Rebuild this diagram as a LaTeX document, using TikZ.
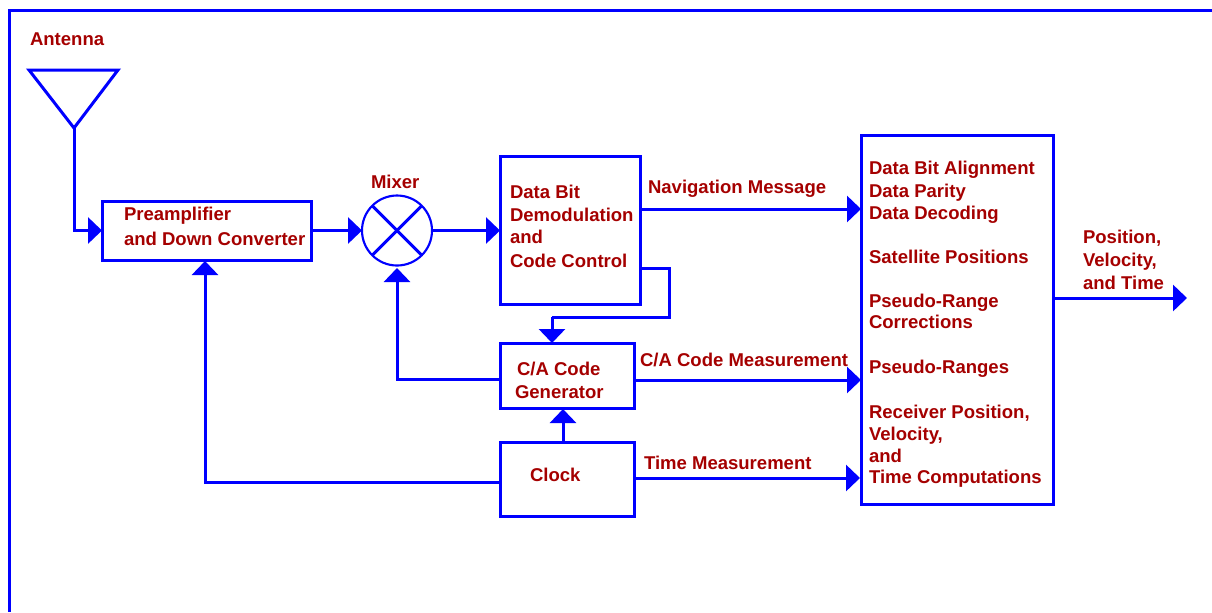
\documentclass[tikz,border=0pt]{standalone}
\usepackage{fontspec}
\setmainfont{Liberation Sans}
\usetikzlibrary{arrows.meta}
\definecolor{linecol}{RGB}{0,0,255}
\definecolor{textcol}{RGB}{165,0,0}
\tikzset{
  x=0.75pt,y=-0.75pt,
  wire/.style={draw=linecol,line width=2.25pt},
  flow/.style={wire,-{Triangle[length=10.5pt,width=19.5pt]}},
  block/.style={draw=linecol,line width=2.25pt,fill=white,inner sep=0pt,outer sep=0pt},
  lbl/.style={text=textcol,font=\bfseries\fontsize{13.9pt}{16pt}\selectfont,inner sep=0pt,outer sep=0pt,anchor=base west},
}
\newcommand{\boxat}[5]{\node[block,minimum width=#4*0.75pt,minimum height=#5*0.75pt] (#1) at (#2,#3) {};}
\begin{document}
\begin{tikzpicture}
\useasboundingbox (0,0) rectangle (1212,612);
% frame
\coordinate (fa) at (9,612);
\coordinate (fb) at (9,10);
\coordinate (fc) at (1212,10);
\draw[wire,line join=miter] (fa) -- (fb) -- (fc);
% blocks
\boxat{pre}{206.5}{230.5}{209}{59}
\boxat{dat}{570}{230.5}{140}{148}
\boxat{gen}{567}{375.5}{134}{65}
\boxat{clk}{567}{479}{134}{74}
\boxat{nav}{957}{319.5}{192}{369}
\node[circle,draw=linecol,line width=1.6pt,minimum size=70*0.75pt,inner sep=0pt,outer sep=0pt] (mix) at (397,230.5) {};
\draw[wire] (mix.north west) -- (mix.south east);
\draw[wire] (mix.north east) -- (mix.south west);
% antenna
\coordinate (ta) at (29,70);
\coordinate (tb) at (118,70);
\coordinate (ant) at (74,128);
\draw[wire,line join=miter] (ta) -- (tb) -- (ant) -- cycle;
% connection points
\coordinate (navin) at (861,209);
\coordinate (genin) at (861,380);
\coordinate (clkin) at (860,478);
\coordinate (outtip) at (1187,298);
\coordinate (fbk) at (640,268);
\coordinate (fbr) at (669,268);
\coordinate (fbb) at (669,317);
\coordinate (fbl) at (552,317);
\coordinate (gentop) at (552,343);
\coordinate (genl) at (500,379);
\coordinate (mixb) at (397,268);
\coordinate (clkl) at (500,482);
\coordinate (preb) at (205,261);
\coordinate (clkt) at (563,442);
\coordinate (genb) at (563,409);
% connectors
\draw[flow] (ant) |- (pre.west);
\draw[flow] (pre.east) -- (mix.west);
\draw[flow] (mix.east) -- (dat.west);
\draw[flow] (dat.east |- navin) -- (navin);
\draw[wire,line join=miter] (fbk) -- (fbr) -- (fbb) -- (fbl);
\draw[flow] (fbl) -- (gentop);
\draw[flow] (gen.east |- genin) -- (genin);
\draw[flow] (clk.east |- clkin) -- (clkin);
\draw[flow] (genl) -| (mixb);
\draw[flow] (clkl) -| (preb);
\draw[flow] (clkt) -- (genb);
\draw[flow] (nav.east |- outtip) -- (outtip);
% labels
\node[lbl] (l1) at (30,45) {Antenna};
\node[lbl] (l2) at (371,188) {Mixer};
\node[lbl] (l3) at (124,220) {Preamplifier};
\node[lbl] (l4) at (124,245) {and Down Converter};
\node[lbl] (l5) at (510,198) {Data Bit};
\node[lbl] (l6) at (510,221) {Demodulation};
\node[lbl] (l7) at (510,243) {and};
\node[lbl] (l8) at (510,267) {Code Control};
\node[lbl] (l9) at (648,193) {Navigation Message};
\node[lbl] (l10) at (517,375) {C/A Code};
\node[lbl] (l11) at (515,398) {Generator};
\node[lbl] (l12) at (640,366) {C/A Code Measurement};
\node[lbl] (l13) at (530,481) {Clock};
\node[lbl] (l14) at (644,469) {Time Measurement};
\node[lbl] (r1) at (869,174) {Data Bit Alignment};
\node[lbl] (r2) at (869,197) {Data Parity};
\node[lbl] (r3) at (869,219) {Data Decoding};
\node[lbl] (r4) at (869,263) {Satellite Positions};
\node[lbl] (r5) at (869,307) {Pseudo-Range};
\node[lbl] (r6) at (869,328) {Corrections};
\node[lbl] (r7) at (869,373) {Pseudo-Ranges};
\node[lbl] (r8) at (869,418) {Receiver Position,};
\node[lbl] (r9) at (869,440) {Velocity,};
\node[lbl] (r10) at (869,462) {and};
\node[lbl] (r11) at (869,483) {Time Computations};
\node[lbl] (o1) at (1083,243) {Position,};
\node[lbl] (o2) at (1083,266) {Velocity,};
\node[lbl] (o3) at (1083,289) {and Time};
\end{tikzpicture}
\end{document}
